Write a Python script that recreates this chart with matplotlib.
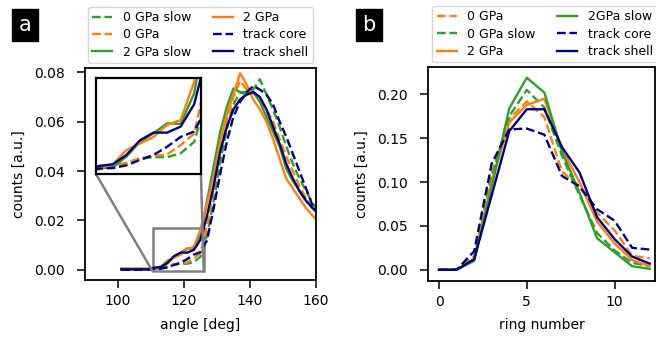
import numpy as np
import matplotlib
matplotlib.use("Agg")
import matplotlib.pyplot as plt
from mpl_toolkits.axes_grid1.inset_locator import mark_inset

# Panel a: angle distributions
angle = [101, 103, 105, 107, 109, 111, 113, 115, 117, 119, 121, 123, 125, 127, 129, 131,
         133, 135, 137, 139, 141, 143, 145, 147, 149, 151, 153, 155, 157, 159, 161]
a_0gpa_slow = [0.0003, 0.0003, 0.0003, 0.0003, 0.0003, 0.0003, 0.0008, 0.0014, 0.0022, 0.0025,
               0.0025, 0.0032, 0.0053, 0.014, 0.028, 0.044, 0.057, 0.067, 0.072, 0.072, 0.073,
               0.0772, 0.071, 0.065, 0.058, 0.050, 0.043, 0.037, 0.032, 0.027, 0.023]
a_0gpa = [0.0002, 0.0002, 0.0002, 0.0002, 0.0002, 0.0003, 0.0008, 0.0015, 0.0023, 0.0027,
          0.0030, 0.0047, 0.0068, 0.018, 0.033, 0.048, 0.061, 0.070, 0.0765, 0.073, 0.072,
          0.069, 0.065, 0.060, 0.053, 0.046, 0.040, 0.034, 0.029, 0.025, 0.022]
a_2gpa_slow = [0.0005, 0.0005, 0.0005, 0.0005, 0.0005, 0.0005, 0.0006, 0.0026, 0.0053, 0.0069,
               0.0087, 0.0086, 0.0142, 0.028, 0.042, 0.056, 0.066, 0.0735, 0.072, 0.071, 0.072,
               0.068, 0.062, 0.056, 0.050, 0.041, 0.036, 0.032, 0.028, 0.025, 0.022]
a_2gpa = [0.0004, 0.0004, 0.0004, 0.0003, 0.0003, 0.0005, 0.0012, 0.0038, 0.0050, 0.0062,
          0.0084, 0.0093, 0.0163, 0.027, 0.038, 0.052, 0.063, 0.071, 0.0796, 0.075, 0.069,
          0.065, 0.060, 0.053, 0.045, 0.037, 0.033, 0.029, 0.025, 0.022, 0.019]
a_core = [0.0001, 0.0001, 0.0001, 0.0001, 0.0001, 0.0004, 0.0005, 0.0010, 0.0020, 0.0029,
          0.0044, 0.0062, 0.0072, 0.012, 0.025, 0.039, 0.052, 0.062, 0.068, 0.072, 0.0745,
          0.073, 0.071, 0.067, 0.060, 0.054, 0.047, 0.040, 0.033, 0.026, 0.022]
a_shell = [0.0002, 0.0002, 0.0002, 0.0002, 0.0002, 0.0009, 0.0012, 0.0029, 0.0056, 0.0070,
           0.0070, 0.0081, 0.0122, 0.022, 0.034, 0.048, 0.058, 0.065, 0.069, 0.071, 0.072,
           0.070, 0.065, 0.058, 0.051, 0.043, 0.037, 0.032, 0.028, 0.025, 0.023]

# Panel b: ring number distributions
ring = [0, 1, 2, 3, 4, 5, 6, 7, 8, 9, 10, 11, 12]
b_0gpa = [0, 0, 0.015, 0.110, 0.172, 0.192, 0.174, 0.112, 0.095, 0.065, 0.045, 0.016, 0.013]
b_0gpa_slow = [0, 0, 0.012, 0.105, 0.175, 0.205, 0.185, 0.130, 0.085, 0.042, 0.022, 0.008, 0.004]
b_2gpa = [0, 0, 0.012, 0.100, 0.168, 0.188, 0.195, 0.138, 0.100, 0.055, 0.030, 0.011, 0.004]
b_2gpa_slow = [0, 0, 0.010, 0.095, 0.184, 0.219, 0.202, 0.135, 0.088, 0.036, 0.020, 0.004, 0.001]
b_core = [0, 0, 0.021, 0.121, 0.160, 0.161, 0.154, 0.107, 0.095, 0.069, 0.056, 0.025, 0.023]
b_shell = [0, 0, 0.012, 0.085, 0.158, 0.183, 0.183, 0.140, 0.111, 0.060, 0.035, 0.015, 0.007]

green = "#2ca02c"
orange = "#ff7f0e"
navy = "navy"

plt.rcParams["font.size"] = 10
plt.rcParams["axes.linewidth"] = 1.3
plt.rcParams["xtick.major.size"] = 6
plt.rcParams["ytick.major.size"] = 6
plt.rcParams["xtick.major.width"] = 1.1
plt.rcParams["ytick.major.width"] = 1.1
plt.rcParams["ytick.major.pad"] = 8.5
plt.rcParams["xtick.major.pad"] = 4

legend_kw = dict(ncol=2, fontsize=9, loc="lower center", borderaxespad=0,
                 columnspacing=1.7, labelspacing=0.35, handlelength=1.6,
                 handletextpad=0.85, borderpad=0.35)

fig = plt.figure(figsize=(6.56, 3.44), dpi=100)
ax1 = fig.add_axes([0.1296, 0.186, 0.352, 0.616])
ax2 = fig.add_axes([0.6524, 0.184, 0.346, 0.620])

# panel a
lw = 1.7
ax1.plot(angle, a_0gpa_slow, "--", color=green, lw=lw, label="0 GPa slow")
ax1.plot(angle, a_0gpa, "--", color=orange, lw=lw, label="0 GPa")
ax1.plot(angle, a_2gpa_slow, "-", color=green, lw=lw, label="2 GPa slow")
ax1.plot(angle, a_2gpa, "-", color=orange, lw=lw, label="2 GPa")
ax1.plot(angle, a_core, "--", color=navy, lw=lw, label="track core")
ax1.plot(angle, a_shell, "-", color=navy, lw=lw, label="track shell")
ax1.set_xlim(90, 160)
ax1.set_ylim(-0.0041, 0.0817)
ax1.set_xticks([100, 120, 140, 160])
ax1.set_yticks([0, 0.02, 0.04, 0.06, 0.08])
ax1.set_xlabel("angle [deg]", labelpad=7)
ax1.set_ylabel("counts [a.u.]", labelpad=6)
ax1.legend(bbox_to_anchor=(0.5, 1.024), **legend_kw)

# inset
axins = fig.add_axes([0.1463, 0.494, 0.160, 0.279])
axins.plot(angle, a_0gpa_slow, "--", color=green, lw=lw)
axins.plot(angle, a_0gpa, "--", color=orange, lw=lw)
axins.plot(angle, a_2gpa_slow, "-", color=green, lw=lw)
axins.plot(angle, a_2gpa, "-", color=orange, lw=lw)
axins.plot(angle, a_core, "--", color=navy, lw=lw)
axins.plot(angle, a_shell, "-", color=navy, lw=lw)
axins.set_xlim(110.5, 126)
axins.set_ylim(-0.0006, 0.017)
axins.set_xticks([])
axins.set_yticks([])
for s in axins.spines.values():
    s.set_linewidth(1.6)
mark_inset(ax1, axins, loc1=3, loc2=4, fc="none", ec="0.5", lw=1.8)

# panel b
ax2.plot(ring, b_0gpa, "--", color=orange, lw=lw, label="0 GPa")
ax2.plot(ring, b_0gpa_slow, "--", color=green, lw=lw, label="0 GPa slow")
ax2.plot(ring, b_2gpa, "-", color=orange, lw=lw, label="2 GPa")
ax2.plot(ring, b_2gpa_slow, "-", color=green, lw=lw, label="2GPa slow")
ax2.plot(ring, b_core, "--", color=navy, lw=lw, label="track core")
ax2.plot(ring, b_shell, "-", color=navy, lw=lw, label="track shell")
ax2.set_xlim(-0.63, 12.3)
ax2.set_ylim(-0.0125, 0.2307)
ax2.set_xticks([0, 5, 10])
ax2.set_yticks([0, 0.05, 0.10, 0.15, 0.20])
ax2.set_xlabel("ring number", labelpad=7)
ax2.set_ylabel("counts [a.u.]", labelpad=6)
ax2.legend(bbox_to_anchor=(0.515, 1.024), **legend_kw)

# panel labels
box = dict(boxstyle="square,pad=0.3", fc="black", ec="black")
fig.text(25 / 656, 1 - 25 / 344, "a", color="white", fontsize=15, ha="center", va="center", bbox=box)
fig.text(369 / 656, 1 - 25 / 344, "b", color="white", fontsize=15, ha="center", va="center", bbox=box)

fig.savefig("out.png", dpi=100)
